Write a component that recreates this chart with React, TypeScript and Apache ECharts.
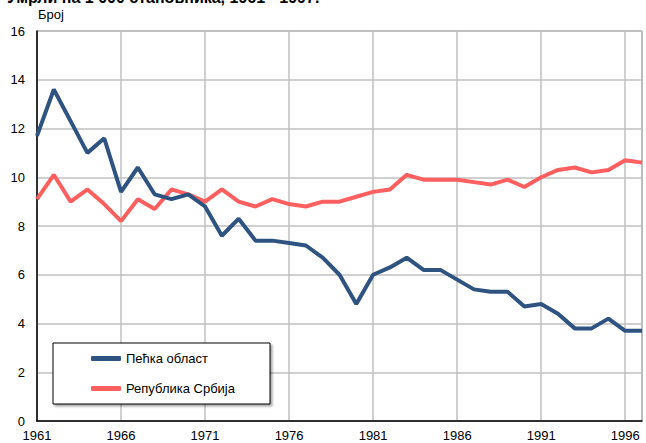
import React, { useEffect, useRef } from "react";
import * as echarts from "echarts";

const years: string[] = [];
for (let y = 1961; y <= 1997; y++) years.push(String(y));

const pecka = [
  11.7, 13.6, 12.3, 11.0, 11.6, 9.4, 10.4, 9.3, 9.1, 9.3,
  8.8, 7.6, 8.3, 7.4, 7.4, 7.3, 7.2, 6.7, 6.0, 4.8,
  6.0, 6.3, 6.7, 6.2, 6.2, 5.8, 5.4, 5.3, 5.3, 4.7,
  4.8, 4.4, 3.8, 3.8, 4.2, 3.7, 3.7,
];

const srbija = [
  9.1, 10.1, 9.0, 9.5, 8.9, 8.2, 9.1, 8.7, 9.5, 9.3,
  9.0, 9.5, 9.0, 8.8, 9.1, 8.9, 8.8, 9.0, 9.0, 9.2,
  9.4, 9.5, 10.1, 9.9, 9.9, 9.9, 9.8, 9.7, 9.9, 9.6,
  10.0, 10.3, 10.4, 10.2, 10.3, 10.7, 10.6,
];

const seriesNames = ["Пећка област", "Република Србија"];
const titleText = "Умрли на 1 000 становника, 1961 - 1997.";
const unitText = "Број";

const FONT = "'Liberation Sans', Arial, sans-serif";

export default function App() {
  const ref = useRef<HTMLDivElement>(null);
  useEffect(() => {
    if (!ref.current) return;
    const chart = echarts.init(ref.current, undefined, { renderer: "svg" });
    chart.setOption({
      animation: false,
      backgroundColor: "#ffffff",
      textStyle: { fontFamily: FONT },
      grid: {
        left: 37,
        right: 4,
        top: 31,
        bottom: 22,
        show: true,
        borderColor: "#7a7a7a",
        borderWidth: 1,
      },
      graphic: [
        {
          type: "text",
          left: 7,
          top: -11,
          style: {
            text: titleText,
            font: `bold 16px ${FONT}`,
            fill: "#000",
          },
        },
        {
          type: "text",
          left: 38,
          top: 8,
          style: {
            text: unitText,
            font: `13px ${FONT}`,
            fill: "#000",
          },
        },
        {
          type: "rect",
          shape: { x: 53, y: 343, width: 217, height: 61 },
          style: {
            fill: "#fff",
            stroke: "#000",
            lineWidth: 1,
            shadowColor: "rgba(0,0,0,0.35)",
            shadowOffsetX: 2,
            shadowOffsetY: 2,
            shadowBlur: 2,
          },
          z: 50,
        },
      ],
      legend: {
        orient: "vertical",
        left: 53,
        top: 343,
        padding: [9, 10, 7, 38],
        itemGap: 17,
        itemWidth: 30,
        itemHeight: 5,
        icon: "roundRect",
        z: 60,
        textStyle: { fontSize: 13, color: "#000", fontFamily: FONT },
        data: seriesNames,
      },
      xAxis: {
        type: "category",
        data: years,
        boundaryGap: false,
        axisLine: { show: true, lineStyle: { color: "#000", width: 1.5 } },
        axisTick: { show: false },
        axisLabel: {
          interval: 4,
          color: "#000",
          fontSize: 13,
          fontFamily: FONT,
          margin: 8,
        },
        splitLine: {
          show: true,
          interval: 4,
          lineStyle: { color: "#c0c0c0", width: 1.5 },
        },
      },
      yAxis: {
        type: "value",
        min: 0,
        max: 16,
        interval: 2,
        axisLine: { show: true, lineStyle: { color: "#000", width: 1.5 } },
        axisTick: { show: false },
        axisLabel: { color: "#000", fontSize: 13, fontFamily: FONT, margin: 12 },
        splitLine: { show: true, lineStyle: { color: "#c0c0c0", width: 1.5 } },
      },
      series: [
        {
          name: seriesNames[0],
          type: "line",
          data: pecka,
          symbol: "none",
          color: "#2f5381",
          lineStyle: { width: 4, color: "#2f5381" },
          z: 3,
        },
        {
          name: seriesNames[1],
          type: "line",
          data: srbija,
          symbol: "none",
          color: "#ff5f5f",
          lineStyle: { width: 4, color: "#ff5f5f" },
          z: 2,
        },
      ],
    });
    return () => chart.dispose();
  }, []);
  return (
    <div
      ref={ref}
      style={{ position: "fixed", left: 0, top: 0, width: 646, height: 443 }}
    />
  );
}
